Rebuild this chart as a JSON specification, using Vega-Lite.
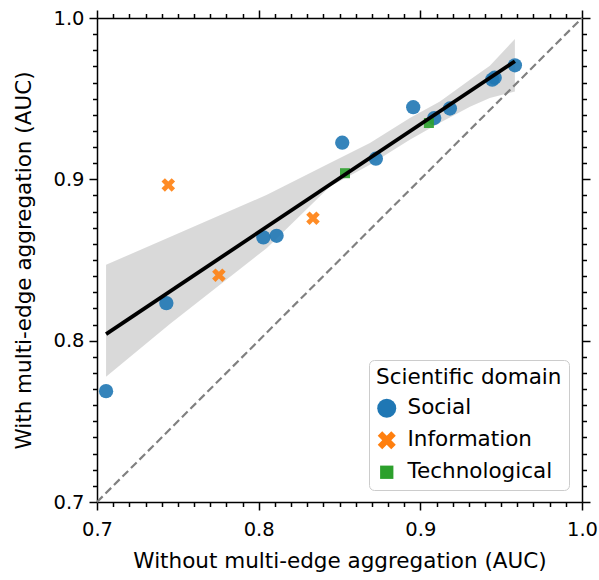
{
  "$schema": "https://vega.github.io/schema/vega-lite/v6.json",
  "width": 485,
  "height": 484,
  "autosize": {"type": "none"},
  "padding": {"left": 97, "top": 18, "right": 17, "bottom": 78},
  "config": {
    "view": {"stroke": null},
    "font": "DejaVu Sans",
    "axis": {
      "grid": false,
      "domainColor": "black",
      "domainWidth": 1.5,
      "tickColor": "black",
      "tickWidth": 1.5,
      "labelColor": "black",
      "labelFontSize": 19.5,
      "labelFont": "DejaVu Sans",
      "titleFont": "DejaVu Sans",
      "titleFontSize": 21.5,
      "titleFontWeight": "normal",
      "titleColor": "black",
      "labelFlush": false,
      "labelOverlap": false,
      "labelBound": false
    },
    "legend": {
      "orient": "none",
      "legendX": 272,
      "legendY": 342,
      "fillColor": "white",
      "strokeColor": "#cccccc",
      "cornerRadius": 5,
      "padding": 7,
      "titleFont": "DejaVu Sans",
      "titleFontSize": 21.5,
      "titleFontWeight": "normal",
      "titleColor": "black",
      "titlePadding": 9,
      "titleLimit": 400,
      "labelFont": "DejaVu Sans",
      "labelFontSize": 21.5,
      "labelColor": "black",
      "labelLimit": 400,
      "labelOffset": 10,
      "rowPadding": 9,
      "symbolSize": 361,
      "symbolStrokeWidth": 0,
      "symbolOpacity": 1
    }
  },
  "datasets": {
    "points": [
      {"without": 0.7056, "with": 0.7687, "domain": "Social"},
      {"without": 0.7429, "with": 0.8233, "domain": "Social"},
      {"without": 0.8029, "with": 0.8640, "domain": "Social"},
      {"without": 0.8111, "with": 0.8650, "domain": "Social"},
      {"without": 0.8517, "with": 0.9227, "domain": "Social"},
      {"without": 0.8725, "with": 0.9128, "domain": "Social"},
      {"without": 0.8956, "with": 0.9447, "domain": "Social"},
      {"without": 0.9086, "with": 0.9380, "domain": "Social"},
      {"without": 0.9183, "with": 0.9439, "domain": "Social"},
      {"without": 0.9445, "with": 0.9618, "domain": "Social"},
      {"without": 0.9460, "with": 0.9630, "domain": "Social"},
      {"without": 0.9585, "with": 0.9707, "domain": "Social"},
      {"without": 0.7441, "with": 0.8965, "domain": "Information"},
      {"without": 0.7754, "with": 0.8406, "domain": "Information"},
      {"without": 0.8336, "with": 0.8759, "domain": "Information"},
      {"without": 0.8534, "with": 0.9038, "domain": "Technological"},
      {"without": 0.9053, "with": 0.9349, "domain": "Technological"}
    ],
    "band": [
      {"without": 0.7056, "lo": 0.7777, "hi": 0.8470},
      {"without": 0.7451, "lo": 0.8103, "hi": 0.8643},
      {"without": 0.8051, "lo": 0.8575, "hi": 0.8904},
      {"without": 0.8441, "lo": 0.8955, "hi": 0.9101},
      {"without": 0.8688, "lo": 0.9090, "hi": 0.9225},
      {"without": 0.8935, "lo": 0.9245, "hi": 0.9380},
      {"without": 0.9121, "lo": 0.9350, "hi": 0.9483},
      {"without": 0.9307, "lo": 0.9450, "hi": 0.9617},
      {"without": 0.9430, "lo": 0.9504, "hi": 0.9704},
      {"without": 0.9585, "lo": 0.9545, "hi": 0.9870}
    ],
    "fit": [
      {"without": 0.7056, "with": 0.8041},
      {"without": 0.9585, "with": 0.9732}
    ],
    "diag": [
      {"without": 0.7, "with": 0.7},
      {"without": 1.0, "with": 1.0}
    ]
  },
  "layer": [
    {
      "data": {"name": "band"},
      "mark": {"type": "area", "color": "black", "opacity": 0.15},
      "encoding": {
        "x": {
          "field": "without", "type": "quantitative",
          "scale": {"domain": [0.7, 1.0], "zero": false, "nice": false},
          "axis": {
            "orient": "bottom",
            "values": [0.7,0.71,0.72,0.73,0.74,0.75,0.76,0.77,0.78,0.79,0.8,0.81,0.82,0.83,0.84,0.85,0.86,0.87,0.88,0.89,0.9,0.91,0.92,0.93,0.94,0.95,0.96,0.97,0.98,0.99,1.0],
            "tickSize": {"condition": {"test": "abs(datum.value*10 - round(datum.value*10)) < 0.001", "value": 8}, "value": 4.5},
            "labelExpr": "abs(datum.value*10 - round(datum.value*10)) < 0.001 ? format(datum.value, '.1f') : ''",
            "labelPadding": 10,
            "title": "Without multi-edge aggregation (AUC)",
            "titlePadding": 12
          }
        },
        "y": {
          "field": "lo", "type": "quantitative",
          "scale": {"domain": [0.7, 1.0], "zero": false, "nice": false},
          "axis": {
            "orient": "left",
            "values": [0.7,0.71,0.72,0.73,0.74,0.75,0.76,0.77,0.78,0.79,0.8,0.81,0.82,0.83,0.84,0.85,0.86,0.87,0.88,0.89,0.9,0.91,0.92,0.93,0.94,0.95,0.96,0.97,0.98,0.99,1.0],
            "tickSize": {"condition": {"test": "abs(datum.value*10 - round(datum.value*10)) < 0.001", "value": 8}, "value": 4.5},
            "labelExpr": "abs(datum.value*10 - round(datum.value*10)) < 0.001 ? format(datum.value, '.1f') : ''",
            "labelPadding": 5,
            "title": "With multi-edge aggregation (AUC)",
            "titlePadding": 17
          }
        },
        "y2": {"field": "hi"}
      }
    },
    {
      "data": {"name": "diag"},
      "mark": {"type": "line", "color": "gray", "strokeWidth": 2.2, "strokeDash": [8, 4]},
      "encoding": {
        "x": {
          "field": "without", "type": "quantitative",
          "axis": {
            "orient": "top",
            "values": [0.7,0.71,0.72,0.73,0.74,0.75,0.76,0.77,0.78,0.79,0.8,0.81,0.82,0.83,0.84,0.85,0.86,0.87,0.88,0.89,0.9,0.91,0.92,0.93,0.94,0.95,0.96,0.97,0.98,0.99,1.0],
            "tickSize": {"condition": {"test": "abs(datum.value*10 - round(datum.value*10)) < 0.001", "value": 8}, "value": 4.5},
            "labels": false,
            "title": null
          }
        },
        "y": {
          "field": "with", "type": "quantitative",
          "axis": {
            "orient": "right",
            "values": [0.7,0.71,0.72,0.73,0.74,0.75,0.76,0.77,0.78,0.79,0.8,0.81,0.82,0.83,0.84,0.85,0.86,0.87,0.88,0.89,0.9,0.91,0.92,0.93,0.94,0.95,0.96,0.97,0.98,0.99,1.0],
            "tickSize": {"condition": {"test": "abs(datum.value*10 - round(datum.value*10)) < 0.001", "value": 8}, "value": 4.5},
            "labels": false,
            "title": null
          }
        }
      }
    },
    {
      "data": {"name": "points"},
      "mark": {"type": "point", "filled": true, "opacity": 0.9, "size": 204},
      "encoding": {
        "x": {"field": "without", "type": "quantitative", "axis": null},
        "y": {"field": "with", "type": "quantitative", "axis": null},
        "color": {
          "field": "domain", "type": "nominal",
          "scale": {"domain": ["Social", "Information", "Technological"], "range": ["#1f77b4", "#ff7f0e", "#2ca02c"]},
          "legend": {"title": "Scientific domain", "symbolSize": 361}
        },
        "shape": {
          "field": "domain", "type": "nominal",
          "scale": {"domain": ["Social", "Information", "Technological"], "range": ["circle", "M-0.475,-0.95L0,-0.475L0.475,-0.95L0.95,-0.475L0.475,0L0.95,0.475L0.475,0.95L0,0.475L-0.475,0.95L-0.95,0.475L-0.475,0L-0.95,-0.475Z", "M-0.7,-0.7H0.7V0.7H-0.7Z"]},
          "legend": {"title": "Scientific domain", "symbolSize": 361}
        }
      }
    },
    {
      "data": {"name": "fit"},
      "mark": {"type": "line", "color": "black", "strokeWidth": 3.8},
      "encoding": {
        "x": {"field": "without", "type": "quantitative", "axis": null},
        "y": {"field": "with", "type": "quantitative", "axis": null}
      }
    }
  ],
  "resolve": {"axis": {"x": "independent", "y": "independent"}}
}
